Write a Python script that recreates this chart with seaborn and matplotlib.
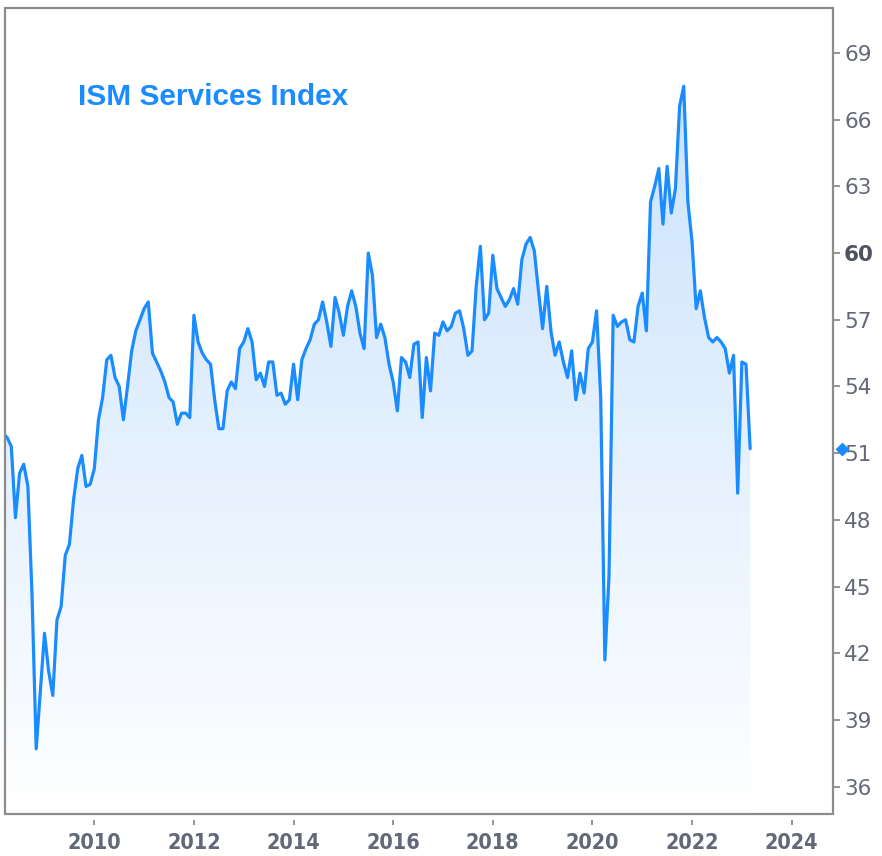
import numpy as np
import pandas as pd
import matplotlib
matplotlib.use("Agg")
import matplotlib.pyplot as plt
import matplotlib.transforms as mtransforms
from matplotlib import font_manager
from matplotlib.patches import Rectangle
import seaborn as sns

# monthly ISM services readings, Mar 2008 .. Mar 2023
ism_2008 = [51.9, 51.7, 51.3, 48.1, 50.1, 50.5, 49.5, 44.6, 37.7, 40.3]
ism_2009 = [42.9, 41.2, 40.1, 43.5, 44.1, 46.4, 46.9, 48.9, 50.3, 50.9, 49.5, 49.6]
ism_2010 = [50.3, 52.5, 53.5, 55.2, 55.4, 54.4, 54.0, 52.5, 54.0, 55.6, 56.5, 57.0]
ism_2011 = [57.5, 57.8, 55.5, 55.1, 54.7, 54.2, 53.5, 53.3, 52.3, 52.8, 52.8, 52.6]
ism_2012 = [57.2, 56.0, 55.5, 55.2, 55.0, 53.4, 52.1, 52.1, 53.8, 54.2, 53.9, 55.7]
ism_2013 = [56.0, 56.6, 56.0, 54.3, 54.6, 54.0, 55.1, 55.1, 53.6, 53.7, 53.2, 53.4]
ism_2014 = [55.0, 53.4, 55.2, 55.7, 56.1, 56.8, 57.0, 57.8, 56.9, 55.8, 58.0, 57.3]
ism_2015 = [56.3, 57.6, 58.3, 57.6, 56.4, 55.7, 60.0, 59.0, 56.2, 56.8, 56.2, 55.0]
ism_2016 = [54.2, 52.9, 55.3, 55.1, 54.4, 55.9, 56.0, 52.6, 55.3, 53.8, 56.4, 56.3]
ism_2017 = [56.9, 56.5, 56.7, 57.3, 57.4, 56.6, 55.4, 55.6, 58.5, 60.3, 57.0, 57.3]
ism_2018 = [59.9, 58.4, 58.0, 57.6, 57.9, 58.4, 57.7, 59.7, 60.4, 60.7, 60.1, 58.3]
ism_2019 = [56.6, 58.5, 56.5, 55.4, 56.0, 55.1, 54.4, 55.6, 53.4, 54.6, 53.7, 55.7]
ism_2020 = [56.0, 57.4, 53.5, 41.7, 45.5, 57.2, 56.7, 56.9, 57.0, 56.1, 56.0, 57.6]
ism_2021 = [58.2, 56.5, 62.3, 63.0, 63.8, 61.3, 63.9, 61.8, 62.9, 66.6, 67.5, 62.3]
ism_2022 = [60.5, 57.5, 58.3, 57.1, 56.2, 56.0, 56.2, 56.0, 55.7, 54.6, 55.4, 49.2]
ism_2023 = [55.1, 55.0, 51.2]

y_ticks = list(range(36, 70, 3))
x_ticks = list(range(2010, 2025, 2))

values = (ism_2008 + ism_2009 + ism_2010 + ism_2011 + ism_2012 + ism_2013 + ism_2014
          + ism_2015 + ism_2016 + ism_2017 + ism_2018 + ism_2019 + ism_2020
          + ism_2021 + ism_2022 + ism_2023)
dates = pd.date_range("2008-03-01", periods=len(values), freq="MS")
df = pd.DataFrame({"year": dates.year + (dates.month - 1) / 12, "ism": values})

BLUE = "#1a8cff"
FRAME = "#8c8c8c"
TICK_TXT = "#626877"
XLIM = (2008.207, 2024.83)
YLIM = (34.77, 71.02)

sns.set_theme(style="white")
names = {f.name for f in font_manager.fontManager.ttflist}
narrow = "Liberation Sans Narrow" if "Liberation Sans Narrow" in names else None
title_font = "Liberation Sans" if "Liberation Sans" in names else "DejaVu Sans"

fig = plt.figure(figsize=(8.82, 8.56), dpi=100)
ax = fig.add_axes([5 / 882, 1 - 814 / 856, 828 / 882, 806 / 856])

# move the bottom ticks a little below the frame (resets ticks, so do it first)
for s in ax.spines.values():
    s.set_visible(False)
ax.spines["bottom"].set_position(("outward", 4))

sns.lineplot(data=df, x="year", y="ism", ax=ax, color=BLUE, lw=2.3, zorder=4)

# gradient fill under the line
poly = ax.fill_between(df["year"], df["ism"], YLIM[0], color="none", lw=0)
top = np.array([0.77, 0.875, 0.99])
bot = np.array([1.0, 1.0, 1.0])
t = np.linspace(0, 1, 256)[:, None, None]
grad = bot + (top - bot) * t
img = ax.imshow(grad, extent=[XLIM[0], XLIM[1], YLIM[0], YLIM[1]], origin="lower",
                aspect="auto", zorder=2)
path = poly.get_paths()[0]
img.set_clip_path(path, transform=ax.transData)

ax.set_xlim(*XLIM)
ax.set_ylim(*YLIM)

ax.yaxis.tick_right()
ax.set_yticks(y_ticks)
ax.set_yticklabels([str(v) for v in y_ticks], fontsize=15.5, color=TICK_TXT,
                   family="DejaVu Sans")
for lbl in ax.get_yticklabels():
    if lbl.get_text() == "60":
        lbl.set_fontweight("bold")
        lbl.set_color("#4e535e")
ax.set_xticks(x_ticks)
if narrow is None:
    ax.set_xticklabels([str(v) for v in x_ticks], fontsize=15.5, fontweight="bold",
                       color=TICK_TXT, family="DejaVu Sans", fontstretch="condensed")
else:
    ax.set_xticklabels([str(v) for v in x_ticks], fontsize=19, fontweight="bold",
                       color=TICK_TXT, family=narrow)
ax.tick_params(axis="y", which="both", right=True, left=False, length=5, width=1.3,
               color=FRAME, pad=3)
ax.tick_params(axis="x", which="both", bottom=True, length=3.5, width=1.3,
               color=FRAME, pad=6)
ax.set_xlabel("")
ax.set_ylabel("")

ax.add_patch(Rectangle((0, 0), 1, 1, transform=ax.transAxes, fill=False, ec=FRAME,
                       lw=1.6, clip_on=False, zorder=6))

# last value marker on the axis
off = mtransforms.offset_copy(ax.transData, fig=fig, x=8.5, y=0, units="dots")
ax.plot([XLIM[1]], [values[-1]], marker="D", ms=6.5, color=BLUE, transform=off,
        clip_on=False, zorder=7)

ax.text(0.088, 0.8896, "ISM Services Index", transform=ax.transAxes, ha="left",
        va="center", fontsize=21.5, fontweight="bold", color=BLUE, family=title_font)

fig.savefig("out.png", dpi=100)
